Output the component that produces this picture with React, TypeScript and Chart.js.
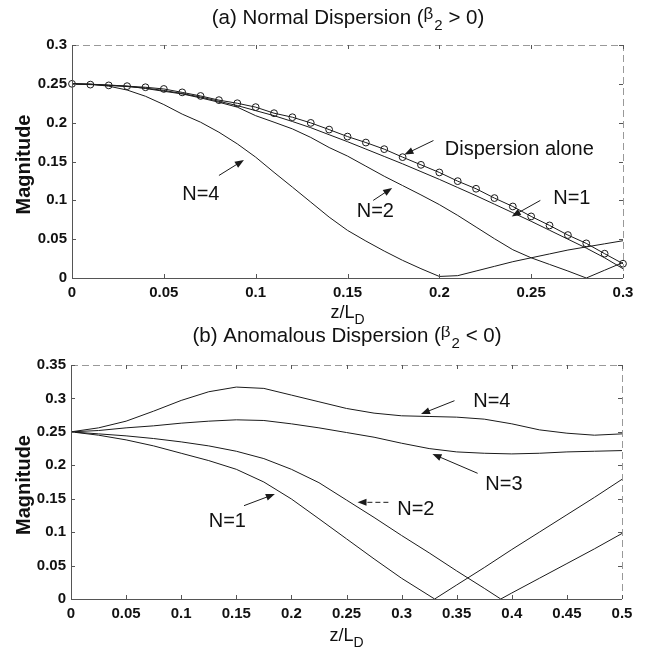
import { useEffect, useRef } from "react";
import { Chart, registerables } from "chart.js";
Chart.register(...registerables);

const FONT = '"Liberation Sans", Arial, Helvetica, sans-serif';
const INK = "#1a1a1a";

// ---------- (a) Normal dispersion ----------
const topX = [0, 0.01, 0.02, 0.03, 0.04, 0.05, 0.06, 0.07, 0.08, 0.09, 0.1, 0.11, 0.12, 0.13, 0.14, 0.15, 0.16, 0.17, 0.18, 0.19, 0.2, 0.21, 0.22, 0.23, 0.24, 0.25, 0.26, 0.27, 0.28, 0.29, 0.3];
const topDispersion = [0.25, 0.249, 0.248, 0.247, 0.2456, 0.2434, 0.239, 0.2344, 0.229, 0.225, 0.22, 0.2122, 0.207, 0.1997, 0.1911, 0.1821, 0.1744, 0.1659, 0.1556, 0.1457, 0.1359, 0.1247, 0.1149, 0.1029, 0.0921, 0.0793, 0.0677, 0.0553, 0.0446, 0.0313, 0.0184];
const topN1 = [0.25, 0.2495, 0.248, 0.2465, 0.2445, 0.2415, 0.2375, 0.233, 0.2275, 0.222, 0.2155, 0.209, 0.2015, 0.1935, 0.1845, 0.1755, 0.166, 0.1565, 0.147, 0.137, 0.127, 0.1165, 0.106, 0.095, 0.084, 0.073, 0.0615, 0.05, 0.0385, 0.026, 0.012];
const topN2 = [0.25, 0.2495, 0.2485, 0.247, 0.244, 0.2404, 0.237, 0.2319, 0.2263, 0.22, 0.209, 0.2006, 0.192, 0.181, 0.168, 0.157, 0.144, 0.131, 0.119, 0.107, 0.0945, 0.0806, 0.0656, 0.0506, 0.0364, 0.026, 0.0175, 0.009, 0, 0.01, 0.02];
const topN4 = [0.25, 0.2495, 0.247, 0.242, 0.234, 0.2233, 0.211, 0.2006, 0.1877, 0.1727, 0.1556, 0.136, 0.117, 0.0977, 0.0784, 0.0613, 0.0476, 0.0347, 0.0227, 0.012, 0.002, 0.003, 0.009, 0.015, 0.021, 0.026, 0.031, 0.036, 0.04, 0.044, 0.048];
const topXTicks = [0, 0.05, 0.1, 0.15, 0.2, 0.25, 0.3];
const topYTicks = [0, 0.05, 0.1, 0.15, 0.2, 0.25, 0.3];

// ---------- (b) Anomalous dispersion ----------
const botX = [0, 0.025, 0.05, 0.075, 0.1, 0.125, 0.15, 0.175, 0.2, 0.225, 0.25, 0.275, 0.3, 0.325, 0.35, 0.375, 0.4, 0.425, 0.45, 0.475, 0.5];
const botN1X = [0, 0.025, 0.05, 0.075, 0.1, 0.125, 0.15, 0.175, 0.2, 0.225, 0.25, 0.275, 0.3, 0.33, 0.35, 0.375, 0.4, 0.425, 0.45, 0.475, 0.5];
const botN1 = [0.25, 0.245, 0.238, 0.229, 0.218, 0.207, 0.194, 0.175, 0.1496, 0.12, 0.09, 0.06, 0.031, 0, 0.021, 0.047, 0.074, 0.1, 0.126, 0.152, 0.179];
const botN2X = [0, 0.025, 0.05, 0.075, 0.1, 0.125, 0.15, 0.175, 0.2, 0.225, 0.25, 0.275, 0.3, 0.325, 0.35, 0.375, 0.39, 0.4, 0.425, 0.45, 0.475, 0.5];
const botN2 = [0.25, 0.247, 0.244, 0.24, 0.235, 0.229, 0.221, 0.21, 0.194, 0.174, 0.148, 0.122, 0.095, 0.069, 0.042, 0.016, 0, 0.009, 0.031, 0.053, 0.075, 0.098];
const botN3 = [0.25, 0.252, 0.256, 0.259, 0.263, 0.266, 0.268, 0.267, 0.262, 0.256, 0.249, 0.242, 0.233, 0.225, 0.22, 0.218, 0.217, 0.218, 0.22, 0.221, 0.222];
const botN4 = [0.25, 0.256, 0.266, 0.281, 0.297, 0.31, 0.317, 0.315, 0.305, 0.295, 0.285, 0.278, 0.274, 0.273, 0.272, 0.269, 0.262, 0.253, 0.248, 0.245, 0.247];
const botXTicks = [0, 0.05, 0.1, 0.15, 0.2, 0.25, 0.3, 0.35, 0.4, 0.45, 0.5];
const botYTicks = [0, 0.05, 0.1, 0.15, 0.2, 0.25, 0.3, 0.35];

// ---------- texts ----------
const topTitle: [string, string][] = [["(a) Normal Dispersion (", "n"], ["β", "sup"], ["2", "sub"], [" > 0)", "n"]];
const botTitle: [string, string][] = [["(b) Anomalous Dispersion (", "n"], ["β", "sup"], ["2", "sub"], [" < 0)", "n"]];
const xTitle: [string, string][] = [["z/L", "n"], ["D", "sub"]];
const yTitle = "Magnitude";

const topNotes = ["Dispersion alone", "N=1", "N=2", "N=4"];
const topNoteAt = [[0.203, 0.166], [0.262, 0.102], [0.155, 0.086], [0.06, 0.108]];
const topArrows = [[0.1968, 0.177, 0.181, 0.159], [0.255, 0.0999, 0.2394, 0.0793], [0.164, 0.0999, 0.1743, 0.116], [0.08, 0.132, 0.0936, 0.152]];

const botNotes = ["N=4", "N=3", "N=2", "N=1"];
const botNoteAt = [[0.365, 0.295], [0.376, 0.171], [0.296, 0.1346], [0.125, 0.116]];
const botArrows = [[0.348, 0.2966, 0.3176, 0.2767], [0.369, 0.188, 0.328, 0.217], [0.288, 0.1446, 0.26, 0.1446], [0.157, 0.1396, 0.185, 0.157]];

function drawRich(ctx: CanvasRenderingContext2D, parts: [string, string][], cx: number, cy: number, size: number) {
  const fonts = parts.map(([, m]) =>
    m === "n" ? `${size}px ${FONT}` : m === "sup" ? `${Math.round(size * 0.82)}px ${FONT}` : `${Math.round(size * 0.75)}px ${FONT}`
  );
  const widths = parts.map(([t], i) => {
    ctx.font = fonts[i];
    return ctx.measureText(t).width;
  });
  const total = widths.reduce((a, b) => a + b, 0);
  let x = cx - total / 2;
  ctx.textAlign = "left";
  ctx.textBaseline = "middle";
  parts.forEach(([t, m], i) => {
    ctx.font = fonts[i];
    const dy = m === "sup" ? -size * 0.2 : m === "sub" ? size * 0.4 : 0;
    ctx.fillText(t, x, cy + dy);
    x += widths[i] + (m === "sup" ? 1 : 0);
  });
}

function arrow(ctx: CanvasRenderingContext2D, x1: number, y1: number, x2: number, y2: number) {
  const ang = Math.atan2(y2 - y1, x2 - x1);
  const L = 9, W = 3.5;
  ctx.beginPath();
  ctx.moveTo(x1, y1);
  ctx.lineTo(x2 - Math.cos(ang) * L * 0.8, y2 - Math.sin(ang) * L * 0.8);
  ctx.stroke();
  ctx.beginPath();
  ctx.moveTo(x2, y2);
  ctx.lineTo(x2 - Math.cos(ang) * L - Math.sin(ang) * W, y2 - Math.sin(ang) * L + Math.cos(ang) * W);
  ctx.lineTo(x2 - Math.cos(ang) * L + Math.sin(ang) * W, y2 - Math.sin(ang) * L - Math.cos(ang) * W);
  ctx.closePath();
  ctx.fill();
}

const decor = {
  id: "decor",
  afterDraw(chart: any, _args: any, o: any) {
    const { ctx, chartArea } = chart;
    const { left, right, top, bottom } = chartArea;
    const xs = chart.scales.x, ys = chart.scales.y;
    ctx.save();
    // frame
    ctx.lineWidth = 1;
    ctx.strokeStyle = "#555";
    ctx.beginPath();
    ctx.moveTo(left + 0.5, top);
    ctx.lineTo(left + 0.5, bottom + 0.5);
    ctx.lineTo(right, bottom + 0.5);
    ctx.stroke();
    ctx.strokeStyle = "#999";
    ctx.setLineDash([7, 4]);
    ctx.beginPath();
    ctx.moveTo(left, top + 0.5);
    ctx.lineTo(right + 0.5, top + 0.5);
    ctx.lineTo(right + 0.5, bottom);
    ctx.stroke();
    ctx.setLineDash([]);
    // inward ticks
    ctx.strokeStyle = "#555";
    ctx.beginPath();
    o.xTicks.forEach((v: number) => {
      const px = Math.round(xs.getPixelForValue(v)) + 0.5;
      ctx.moveTo(px, bottom); ctx.lineTo(px, bottom - 4);
      ctx.moveTo(px, top); ctx.lineTo(px, top + 4);
    });
    o.yTicks.forEach((v: number) => {
      const py = Math.round(ys.getPixelForValue(v)) + 0.5;
      ctx.moveTo(left, py); ctx.lineTo(left + 4, py);
      ctx.moveTo(right, py); ctx.lineTo(right - 4, py);
    });
    ctx.stroke();
    // titles
    ctx.fillStyle = "#111";
    drawRich(ctx, o.title, (left + right) / 2, o.titleY, 20.5);
    drawRich(ctx, xTitle, (left + right) / 2, o.xTitleY, 18);
    ctx.save();
    ctx.translate(24, (top + bottom) / 2 + 3);
    ctx.rotate(-Math.PI / 2);
    ctx.font = `bold 20px ${FONT}`;
    ctx.textAlign = "center";
    ctx.textBaseline = "middle";
    ctx.fillText(yTitle, 0, 0);
    ctx.restore();
    // annotations
    ctx.font = `20px ${FONT}`;
    ctx.textAlign = "left";
    ctx.textBaseline = "middle";
    o.notes.forEach((t: string, i: number) => {
      ctx.fillText(t, xs.getPixelForValue(o.noteAt[i][0]), ys.getPixelForValue(o.noteAt[i][1]));
    });
    ctx.strokeStyle = INK;
    ctx.fillStyle = INK;
    o.arrows.forEach((a: number[], i: number) => {
      if (o.dashed === i) ctx.setLineDash([5, 3]);
      arrow(ctx, xs.getPixelForValue(a[0]), ys.getPixelForValue(a[1]), xs.getPixelForValue(a[2]), ys.getPixelForValue(a[3]));
      ctx.setLineDash([]);
    });
    ctx.restore();
  },
};

function line(xs: number[], ys: number[], marker = false) {
  return {
    data: xs.map((x, i) => ({ x, y: ys[i] })),
    showLine: true,
    borderColor: INK,
    borderWidth: 1,
    tension: 0,
    clip: false as const,
    pointRadius: marker ? 3.4 : 0,
    pointStyle: "circle",
    pointBorderColor: INK,
    pointBackgroundColor: "rgba(0,0,0,0)",
    pointBorderWidth: 1,
  };
}

function build(canvas: HTMLCanvasElement, p: any) {
  const tickFont = { family: FONT, size: 15, weight: "bold" };
  return new Chart(canvas, {
    type: "scatter",
    data: { datasets: p.datasets },
    plugins: [decor],
    options: {
      responsive: false,
      animation: false,
      events: [],
      layout: { padding: { left: 0, top: p.padTop, right: p.padRight, bottom: 0 } },
      scales: {
        x: {
          type: "linear",
          min: p.xMin,
          max: p.xMax,
          afterBuildTicks: (s: any) => { s.ticks = p.xTicks.map((v: number) => ({ value: v })); },
          afterFit: (s: any) => { s.height = p.xAxisH; },
          ticks: { font: tickFont, color: "#111", padding: 6, maxRotation: 0, autoSkip: false, callback: (v: any) => String(v) },
          grid: { display: false, drawTicks: false, tickLength: 0 },
          border: { display: false },
        },
        y: {
          type: "linear",
          min: p.yMin,
          max: p.yMax,
          afterBuildTicks: (s: any) => { s.ticks = p.yTicks.map((v: number) => ({ value: v })); },
          afterFit: (s: any) => { s.width = p.yAxisW; },
          ticks: { font: tickFont, color: "#111", padding: 5, autoSkip: false, callback: (v: any) => String(v) },
          grid: { display: false, drawTicks: false, tickLength: 0 },
          border: { display: false },
        },
      },
      plugins: {
        legend: { display: false },
        tooltip: { enabled: false },
        title: { display: false },
        decor: {
          title: p.title, titleY: p.titleY, xTitleY: p.xTitleY,
          xTicks: p.xTicks, yTicks: p.yTicks,
          notes: p.notes, noteAt: p.noteAt, arrows: p.arrows, dashed: p.dashed,
        },
      } as any,
    },
  } as any);
}

export default function App() {
  const topRef = useRef<HTMLCanvasElement>(null);
  const botRef = useRef<HTMLCanvasElement>(null);
  useEffect(() => {
    const a = build(topRef.current!, {
      datasets: [line(topX, topDispersion, true), line(topX, topN1), line(topX, topN2), line(topX, topN4)],
      xMin: 0, xMax: 0.3, yMin: 0, yMax: 0.3,
      xTicks: topXTicks, yTicks: topYTicks,
      padTop: 45, padRight: 25, xAxisH: 48, yAxisW: 72,
      title: topTitle, titleY: 18, xTitleY: 313,
      notes: topNotes, noteAt: topNoteAt, arrows: topArrows, dashed: -1,
    });
    const b = build(botRef.current!, {
      datasets: [line(botN1X, botN1), line(botN2X, botN2), line(botX, botN3), line(botX, botN4)],
      xMin: 0, xMax: 0.5, yMin: 0, yMax: 0.35,
      xTicks: botXTicks, yTicks: botYTicks,
      padTop: 39, padRight: 26, xAxisH: 53, yAxisW: 71,
      title: botTitle, titleY: 10, xTitleY: 310,
      notes: botNotes, noteAt: botNoteAt, arrows: botArrows, dashed: 2,
    });
    return () => { a.destroy(); b.destroy(); };
  }, []);
  return (
    <div style={{ position: "fixed", left: 0, top: 0, width: 648, height: 652, background: "#fff" }}>
      <canvas ref={topRef} width={648} height={326} style={{ position: "absolute", left: 0, top: 0, display: "block" }} />
      <canvas ref={botRef} width={648} height={326} style={{ position: "absolute", left: 0, top: 326, display: "block" }} />
    </div>
  );
}
